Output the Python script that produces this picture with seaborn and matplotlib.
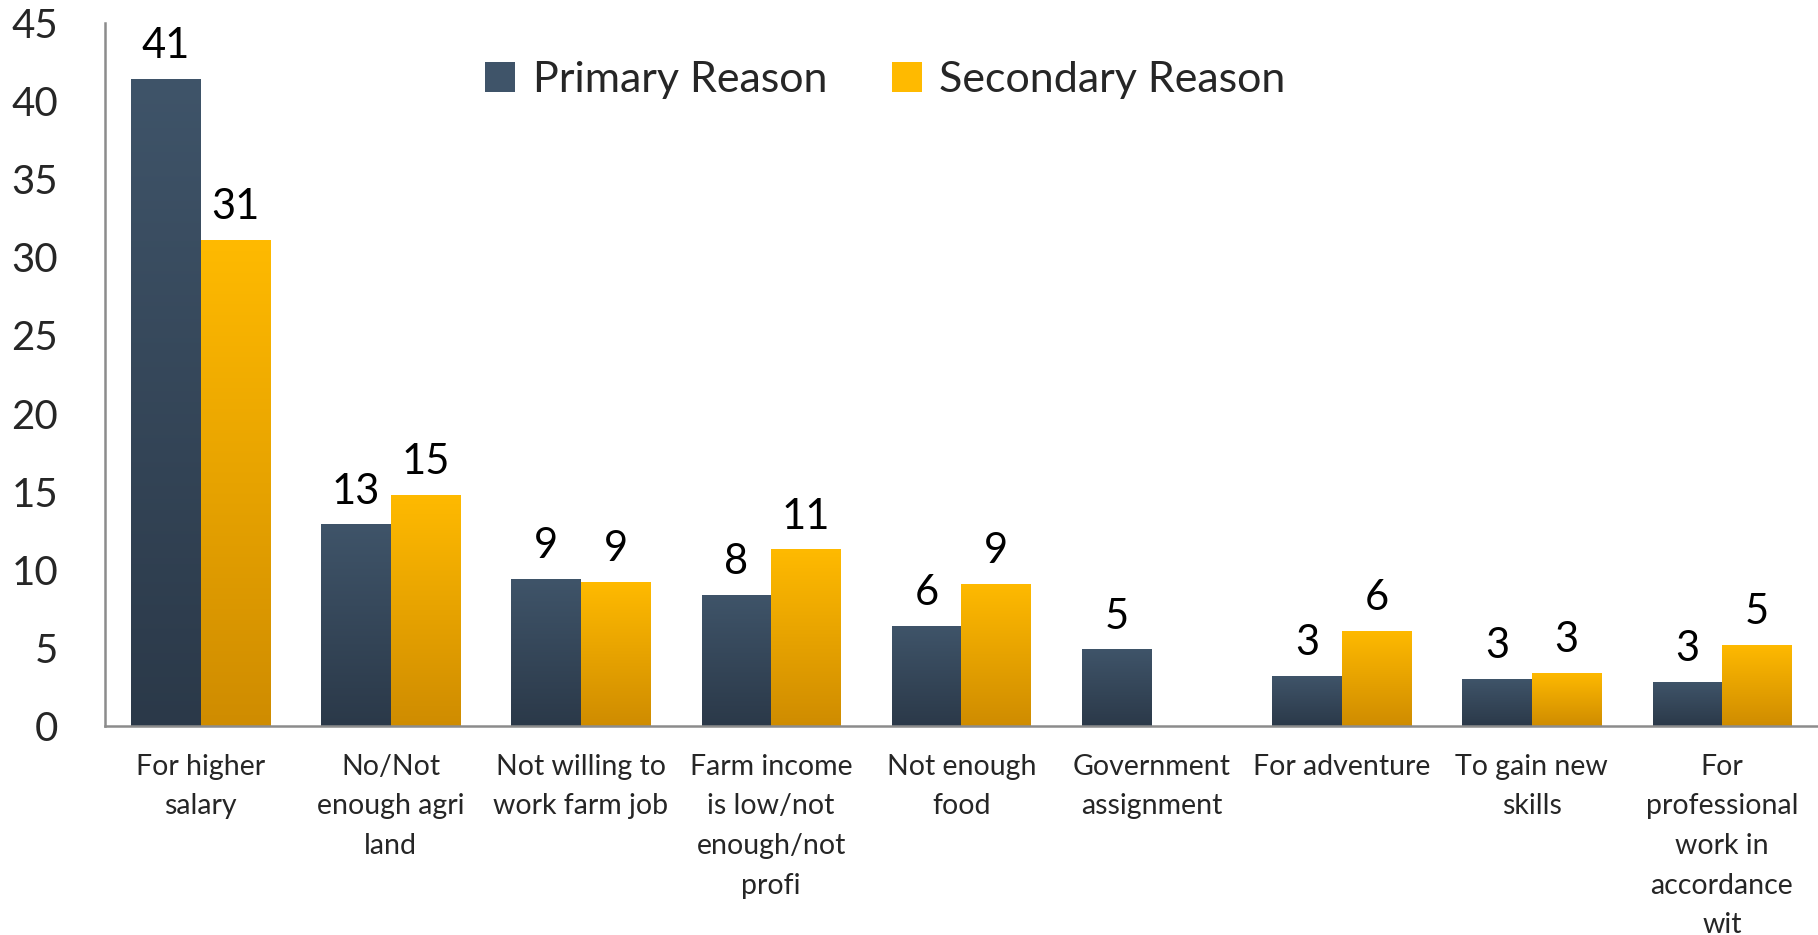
import numpy as np
import pandas as pd
import matplotlib
matplotlib.use("Agg")
import matplotlib.pyplot as plt
import seaborn as sns
from matplotlib.colors import to_rgb
from matplotlib.patches import Patch

categories = [
    "For higher\nsalary",
    "No/Not\nenough agri\nland",
    "Not willing to\nwork farm job",
    "Farm income\nis low/not\nenough/not\nprofi",
    "Not enough\nfood",
    "Government\nassignment",
    "For adventure",
    "To gain new\nskills",
    "For\nprofessional\nwork in\naccordance\nwit",
]
primary = [41.4, 12.9, 9.4, 8.4, 6.4, 4.9, 3.2, 3.0, 2.8]
secondary = [31.1, 14.8, 9.2, 11.3, 9.1, 0.0, 6.1, 3.4, 5.2]
series_names = ["Primary Reason", "Secondary Reason"]
yticks = [0, 5, 10, 15, 20, 25, 30, 35, 40, 45]

grad = {
    "Primary Reason": ("#3f5469", "#2b3949"),
    "Secondary Reason": ("#ffba00", "#cf8c00"),
}

df = pd.DataFrame({
    "cat": categories * 2,
    "value": primary + secondary,
    "series": [series_names[0]] * len(categories) + [series_names[1]] * len(categories),
})

sns.set_style("white")
plt.rcParams["font.family"] = ["Lato", "DejaVu Sans"]

fig = plt.figure(figsize=(18.18, 9.35), dpi=100)
ax = fig.add_axes([0.058, 0.2235, 0.9415, 0.752])

palette = {k: v[1] for k, v in grad.items()}
sns.barplot(data=df, x="cat", y="value", hue="series", palette=palette,
            width=0.73, gap=0, ax=ax, legend=False, saturation=1,
            linewidth=0, edgecolor="none")

ax.set_xlim(-0.5, len(categories) - 0.5)
ax.set_ylim(0, 45)

# gradient fill for bars
for cont, name in zip(ax.containers, series_names):
    top, bot = to_rgb(grad[name][0]), to_rgb(grad[name][1])
    g = np.linspace(0, 1, 256)[:, None, None]
    img = (1 - g) * np.array(top)[None, None, :] + g * np.array(bot)[None, None, :]
    for p in cont.patches:
        x, w, y, h = p.get_x(), p.get_width(), p.get_y(), p.get_height()
        if h <= 0:
            continue
        im = ax.imshow(img, extent=[x, x + w, y, y + h], aspect="auto",
                       zorder=p.get_zorder() + 0.1, interpolation="bilinear")
        im.set_clip_path(p)

ax.set_xlim(-0.5, len(categories) - 0.5)
ax.set_ylim(0, 45)
ax.set_aspect("auto")

for cont in ax.containers:
    labels = [f"{v:.0f}" if v > 0 else "" for v in cont.datavalues]
    ax.bar_label(cont, labels=labels, padding=10, fontsize=30, color="black")

ax.set_yticks(yticks)
ax.set_yticklabels([str(t) for t in yticks], fontsize=29)
ax.tick_params(axis="y", length=0, pad=34)
ax.tick_params(axis="x", length=0, pad=20)
ax.set_xticks(range(len(categories)))
ax.set_xticklabels(categories, fontsize=20.5, linespacing=1.65, va="top")
ax.set_xlabel("")
ax.set_ylabel("")

for s in ["top", "right"]:
    ax.spines[s].set_visible(False)
for s in ["left", "bottom"]:
    ax.spines[s].set_color("#8c8c8c")
    ax.spines[s].set_linewidth(1.8)

handles = [Patch(facecolor=grad[n][0], edgecolor="none") for n in series_names]
fig.legend(handles, series_names, loc="center", bbox_to_anchor=(0.487, 0.914),
           ncol=2, frameon=False, fontsize=31, handlelength=0.7, handleheight=0.7,
           handletextpad=0.4, columnspacing=1.5)

fig.savefig("out.png", dpi=100)
